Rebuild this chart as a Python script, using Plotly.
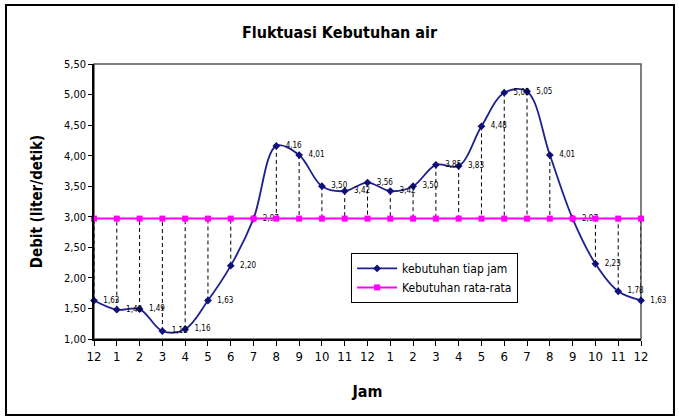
import plotly.graph_objects as go

# Hourly water demand (litre/second), hour 12 (midnight) through the next midnight
hour_labels = ["12", "1", "2", "3", "4", "5", "6", "7", "8", "9", "10", "11",
               "12", "1", "2", "3", "4", "5", "6", "7", "8", "9", "10", "11", "12"]
demand = [1.63, 1.48, 1.49, 1.13, 1.16, 1.63, 2.20, 2.97, 4.16, 4.01, 3.50, 3.42,
          3.56, 3.42, 3.50, 3.85, 3.83, 4.48, 5.03, 5.05, 4.01, 2.97, 2.23, 1.78, 1.63]
average = 2.97

y_ticks = [1.00, 1.50, 2.00, 2.50, 3.00, 3.50, 4.00, 4.50, 5.00, 5.50]

x = list(range(len(hour_labels)))
avg_line = [average] * len(x)

FONT = "Liberation Sans Narrow, Arial Narrow, DejaVu Sans Condensed, Liberation Sans, Arial, sans-serif"

fig = go.Figure()

# dashed drop lines between each hourly value and the average line
drop_x, drop_y = [], []
for xi, v in zip(x, demand):
    drop_x += [xi, xi, None]
    drop_y += [v, average, None]
fig.add_trace(go.Scatter(
    x=drop_x, y=drop_y, mode="lines",
    line=dict(color="black", width=1, dash="4px,3px"),
    showlegend=False, hoverinfo="skip",
))

fig.add_trace(go.Scatter(
    x=x, y=demand, mode="lines+markers+text", name="kebutuhan tiap jam",
    line=dict(color="#1F1F8F", width=1.8, shape="spline", smoothing=1.0),
    marker=dict(symbol="diamond", size=6, color="#10107A"),
    text=["  " + f"{v:.2f}".replace(".", ",") for v in demand],
    textposition="middle right",
    textfont=dict(family=FONT, size=8, color="black"),
    cliponaxis=False,
))

fig.add_trace(go.Scatter(
    x=x, y=avg_line, mode="lines+markers", name="Kebutuhan rata-rata",
    line=dict(color="#FF00FF", width=2),
    marker=dict(symbol="square", size=6, color="#FF00FF"),
    cliponaxis=False,
))

shapes = [
    # plot-area border
    dict(type="rect", xref="paper", yref="paper", x0=0, y0=0, x1=1, y1=1,
         line=dict(color="#555555", width=1.5), layer="below"),
    # outer chart frame
    dict(type="rect", xref="paper", yref="paper",
         x0=-0.1609, y0=-0.2764, x1=1.0603, y1=1.2145,
         line=dict(color="black", width=2)),
]

fig.update_layout(
    width=679, height=416,
    margin=dict(l=94, r=38, t=64, b=77),
    paper_bgcolor="white", plot_bgcolor="white",
    separators=",.",
    font=dict(family=FONT, color="black"),
    title=dict(text="<b>Fluktuasi Kebutuhan air</b>", x=0.5, xanchor="center",
               y=0.923, yanchor="middle", font=dict(family=FONT, size=16)),
    shapes=shapes,
    showlegend=True,
    legend=dict(x=0.47, y=0.313, xanchor="left", yanchor="top",
                bgcolor="white", bordercolor="black", borderwidth=1,
                font=dict(family=FONT, size=12), tracegroupgap=2,
                itemwidth=40),
    xaxis=dict(
        range=[0, 24], tickmode="array", tickvals=x, ticktext=hour_labels,
        showgrid=False, zeroline=False, showline=True, linecolor="black", linewidth=1.5,
        ticks="outside", ticklen=5, tickcolor="black",
        tickfont=dict(family=FONT, size=13),
        title=dict(text="<b>Jam</b>", font=dict(family=FONT, size=16), standoff=22),
    ),
    yaxis=dict(
        range=[1.0, 5.5], tickmode="array", tickvals=y_ticks, tickformat=".2f",
        showgrid=False, zeroline=False, showline=True, linecolor="black", linewidth=1.5,
        ticks="outside", ticklen=4, tickcolor="black",
        tickfont=dict(family=FONT, size=11),
        title=dict(text="<b>Debit (liter/detik)</b>", font=dict(family=FONT, size=15), standoff=18),
    ),
)

fig.write_html("out.html")
